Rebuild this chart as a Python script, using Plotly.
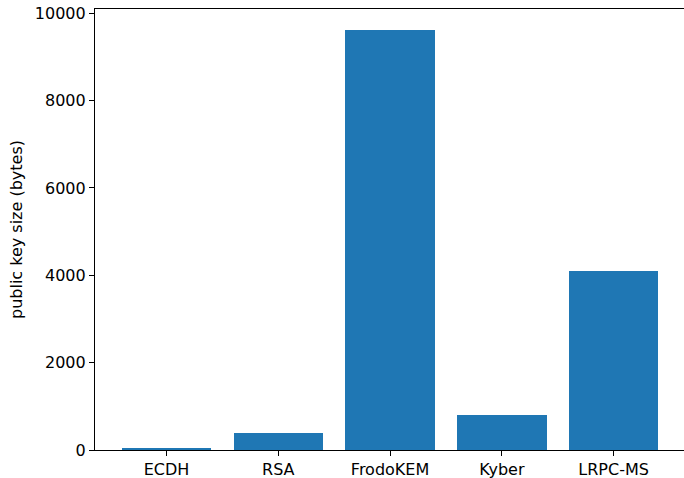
import plotly.graph_objects as go

schemes = ["ECDH", "RSA", "FrodoKEM", "Kyber", "LRPC-MS"]
pk_sizes = [32, 384, 9616, 800, 4090]
y_ticks = [0, 2000, 4000, 6000, 8000, 10000]

fig = go.Figure(go.Bar(x=list(range(len(schemes))), y=pk_sizes, width=0.8,
                       marker=dict(color="#1f77b4", line=dict(width=0))))

font = dict(family="DejaVu Sans", size=16, color="black")
fig.update_layout(
    width=684, height=478, margin=dict(l=95, r=0, t=9, b=28, autoexpand=False),
    plot_bgcolor="white", paper_bgcolor="white", font=font, showlegend=False,
    bargap=0,
)
fig.update_xaxes(range=[-0.64, 4.63], tickmode="array", tickvals=list(range(len(schemes))),
                 ticktext=schemes, ticks="outside", ticklen=5, tickwidth=1.2, tickcolor="black",
                 showline=True, linecolor="black", linewidth=1.2, mirror=True,
                 showgrid=False, zeroline=False, tickfont=font, automargin=False)
fig.update_yaxes(range=[0, 10097], tickmode="array", tickvals=y_ticks,
                 ticktext=[str(v) for v in y_ticks], ticks="outside", ticklen=5, tickwidth=1.2,
                 tickcolor="black", showline=True, linecolor="black", linewidth=1.2,
                 showgrid=False, zeroline=False, tickfont=font, automargin=False,
                 title=dict(text="public key size (bytes)", font=font, standoff=8))
fig.write_html("out.html", config={"displayModeBar": False},
               post_script="document.body.style.margin='0';document.body.style.overflow='hidden';")
